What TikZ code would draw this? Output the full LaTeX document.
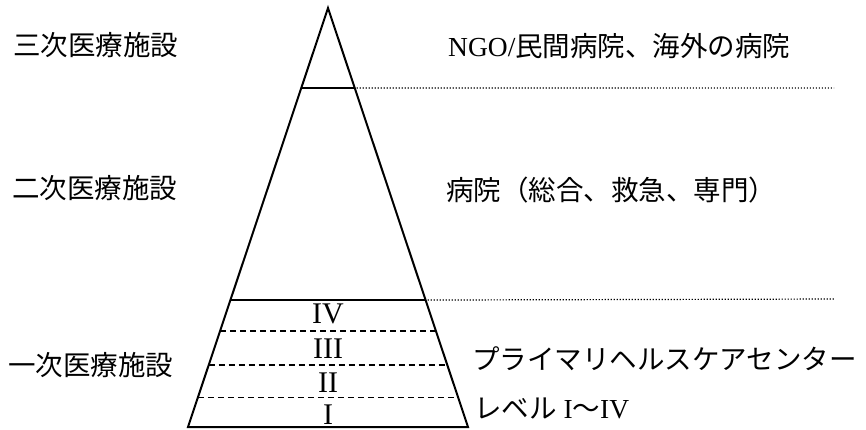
\documentclass[tikz,border=0pt]{standalone}
\usepackage{fontspec}
\setmainfont{Liberation Serif}
\newfontfamily\jp{Noto Sans CJK JP}
\usetikzlibrary{calc}
\tikzset{
  edge/.style={line width=2pt, line join=miter},
  dashline/.style={line width=1.5pt, dash pattern=on 6pt off 4pt},
  dotline/.style={line width=1.2pt, dash pattern=on 1.2pt off 1.8pt},
  lbl/.style={font=\fontsize{27.5}{30}\selectfont, inner sep=0pt, anchor=base west},
  num/.style={font=\fontsize{30}{32}\selectfont, inner sep=0pt, anchor=base},
}
\begin{document}
\begin{tikzpicture}[x=1pt,y=-1pt]
\useasboundingbox (0,0) rectangle (866,429);
\coordinate (A) at (328,8);
\coordinate (BL) at (188,427);
\coordinate (BR) at (468,427);
\draw[edge] (A) -- (BL) -- (BR) -- cycle;
% solid levels
\coordinate (L1a) at ($(A)!0.191!(BL)$);
\coordinate (L1b) at ($(A)!0.191!(BR)$);
\coordinate (L2a) at ($(A)!0.697!(BL)$);
\coordinate (L2b) at ($(A)!0.697!(BR)$);
\draw[edge] (L1a) -- (L1b);
\draw[edge] (L2a) -- (L2b);
% dashed levels
\coordinate (D1a) at ($(A)!0.771!(BL)$);
\coordinate (D1b) at ($(A)!0.771!(BR)$);
\coordinate (D2a) at ($(A)!0.852!(BL)$);
\coordinate (D2b) at ($(A)!0.852!(BR)$);
\coordinate (D3a) at ($(A)!0.930!(BL)$);
\coordinate (D3b) at ($(A)!0.930!(BR)$);
\draw[dashline] (D1a) -- (D1b);
\draw[dashline] (D2a) -- (D2b);
\draw[dashline] (D3a) -- (D3b);
% dotted guides
\coordinate (E1) at (834,88);
\coordinate (E2) at (834,299);
\draw[dotline] ($(L1b)+(2,0)$) -- (E1);
\draw[dotline] ($(L2b)+(2,0)$) -- (E2);
% numerals
\node[num] (n4) at (328,323) {IV};
\node[num] (n3) at (328,358) {III};
\node[num] (n2) at (328,392) {II};
\node[num] (n1) at (328,424) {I};
% left labels
\node[lbl] (t3) at (13,55) {\jp 三次医療施設};
\node[lbl] (t2) at (12,198) {\jp 二次医療施設};
\node[lbl] (t1) at (8,375) {\jp 一次医療施設};
% right labels
\node[lbl] (r3) at (448,56) {NGO/{\jp 民間病院、海外の病院}};
\node[lbl] (r2) at (446,200) {\jp 病院（総合、救急、専門）};
\node[lbl] (r1) at (472,369) {\jp プライマリヘルスケアセンター};
\node[lbl] (r0) at (474,418) {{\jp レベル} I{\jp ～}IV};
\end{tikzpicture}
\end{document}
